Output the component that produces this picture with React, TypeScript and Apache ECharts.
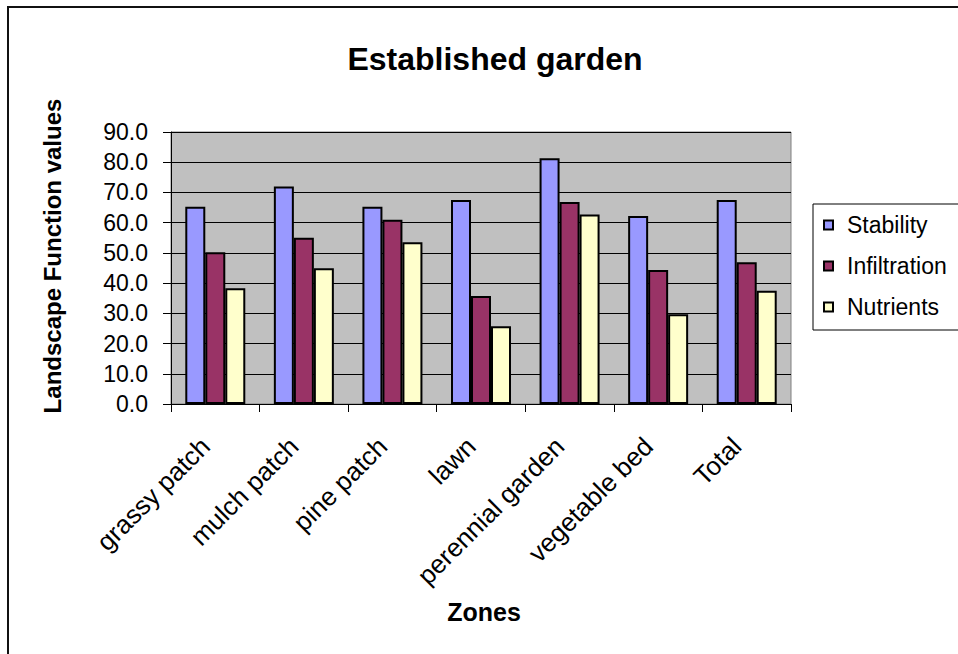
import React, { useEffect, useRef } from "react";
import * as echarts from "echarts";

const categories = ["grassy patch", "mulch patch", "pine patch", "lawn", "perennial garden", "vegetable bed", "Total"];
const stability = [65.3, 72.0, 65.3, 67.5, 81.3, 62.2, 67.5];
const infiltration = [50.2, 55.0, 61.0, 35.7, 66.8, 44.3, 46.9];
const nutrients = [38.3, 44.9, 53.5, 25.7, 62.7, 29.7, 37.5];
const seriesNames = ["Stability", "Infiltration", "Nutrients"];
const seriesColors = ["#9999FF", "#993366", "#FFFFCC"];

const FONT = "'Liberation Sans', Arial, Helvetica, sans-serif";

export default function App() {
  const ref = useRef<HTMLDivElement>(null);
  useEffect(() => {
    if (!ref.current) return;
    const chart = echarts.init(ref.current, null, { renderer: "svg" });
    const values = [stability, infiltration, nutrients];
    chart.setOption({
      animation: false,
      backgroundColor: "#ffffff",
      textStyle: { fontFamily: FONT },
      title: {
        text: "Established garden",
        left: 490,
        top: 38,
        textAlign: "center",
        textStyle: { fontFamily: FONT, fontSize: 32, fontWeight: "bold", color: "#000" },
      },
      legend: {
        orient: "vertical",
        left: 813,
        top: 204,
        padding: [8, 60, 10, 10],
        itemGap: 15,
        itemWidth: 9,
        itemHeight: 9,
        borderColor: "#000",
        borderWidth: 1,
        icon: "rect",
        data: seriesNames,
        textStyle: { fontFamily: FONT, fontSize: 23, color: "#000", lineHeight: 26, padding: [0, 0, 0, 9] },
      },
      grid: {
        left: 171,
        right: 167,
        top: 132,
        bottom: 250,
        show: true,
        backgroundColor: "#C0C0C0",
        borderColor: "#808080",
        borderWidth: 1,
      },
      xAxis: {
        type: "category",
        data: categories,
        boundaryGap: true,
        axisLine: { show: true, lineStyle: { color: "#000", width: 1 } },
        axisTick: { show: true, alignWithLabel: false, length: 8, lineStyle: { color: "#000" } },
        axisLabel: {
          rotate: 45,
          interval: 0,
          margin: 28,
          padding: [0, 14, 0, 0],
          fontFamily: FONT,
          fontSize: 26,
          color: "#000",
        },
        splitLine: { show: false },
      },
      yAxis: {
        type: "value",
        min: 0,
        max: 90,
        interval: 10,
        axisLine: { show: true, lineStyle: { color: "#000", width: 1 } },
        axisTick: { show: true, length: 8, lineStyle: { color: "#000" } },
        axisLabel: {
          margin: 23,
          fontFamily: FONT,
          fontSize: 23,
          color: "#000",
          formatter: (v: number) => v.toFixed(1),
        },
        splitLine: { show: true, lineStyle: { color: "#000", width: 1 } },
      },
      series: seriesNames.map((name, i) => ({
        name,
        type: "bar",
        data: values[i],
        barWidth: 20,
        barGap: "0%",
        itemStyle: { color: seriesColors[i], borderColor: "#000", borderWidth: 2 },
      })),
      graphic: [
        {
          type: "rect",
          shape: { x: 8, y: 7, width: 1000, height: 700 },
          style: { fill: "none", stroke: "#111", lineWidth: 2 },
          silent: true,
        },
        {
          type: "text",
          x: 52,
          y: 256,
          rotation: Math.PI / 2,
          style: {
            text: "Landscape Function values",
            fontFamily: FONT,
            fontSize: 24,
            fontWeight: "bold",
            fill: "#000",
            align: "center",
            verticalAlign: "middle",
          },
        },
        {
          type: "text",
          x: 484,
          y: 612,
          style: {
            text: "Zones",
            fontFamily: FONT,
            fontSize: 25,
            fontWeight: "bold",
            fill: "#000",
            align: "center",
            verticalAlign: "middle",
          },
        },
      ],
    });
    return () => chart.dispose();
  }, []);
  return <div ref={ref} style={{ position: "fixed", left: 0, top: 0, width: 958, height: 654 }} />;
}
